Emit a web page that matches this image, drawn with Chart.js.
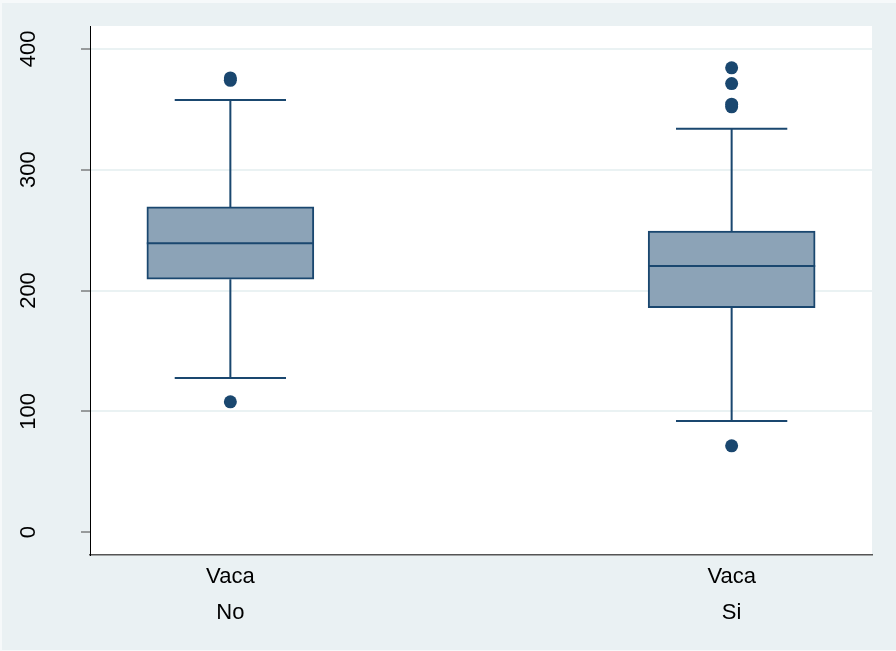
<!DOCTYPE html>
<html>
<head>
<meta charset="utf-8">
<script src="https://cdn.jsdelivr.net/npm/chart.js@4.4.1/dist/chart.umd.min.js"></script>
<style>
  html, body { margin: 0; padding: 0; background: #f6f9fa; }
  #wrap { position: absolute; left: 2px; top: 3px; width: 894px; height: 647px; background: #eaf1f3; }
</style>
</head>
<body>
<div id="wrap"><canvas id="c"></canvas></div>
<script>
// grupos (Vaca: No / Si)
const categories = ['No', 'Si']
const positions = [1, 2]
const q1 = [209.3, 185.8]
const median = [239.1, 220.3]
const q3 = [269.2, 249.3]
const lowerWhisker = [127.5, 91.9]
const upperWhisker = [357.8, 334]
const outliersNo = [107.8, 374, 376]
const outliersSi = [71.4, 352.1, 354.3, 371.3, 384.4]
const yTicks = [0, 100, 200, 300, 400]

const NAVY = '#1a476f'
const FILL = '#8ca3b7'
const BOX_HALF = 0.1667
const CAP_HALF = 0.111

// whiskers, caps and medians as one broken line per group
function whiskerPoints(i) {
  const x = positions[i]
  const gap = { x, y: null }
  return [
    { x, y: q3[i] }, { x, y: upperWhisker[i] }, gap,
    { x: x - CAP_HALF, y: upperWhisker[i] }, { x: x + CAP_HALF, y: upperWhisker[i] }, gap,
    { x, y: q1[i] }, { x, y: lowerWhisker[i] }, gap,
    { x: x - CAP_HALF, y: lowerWhisker[i] }, { x: x + CAP_HALF, y: lowerWhisker[i] }, gap,
    { x: x - BOX_HALF, y: median[i] }, { x: x + BOX_HALF, y: median[i] },
  ]
}

const outlierPoints = [
  ...outliersNo.map(v => ({ x: positions[0], y: v })),
  ...outliersSi.map(v => ({ x: positions[1], y: v })),
]

const plotBg = {
  id: 'plotBg',
  beforeDraw(chart) {
    const { ctx, chartArea: a } = chart
    ctx.save()
    ctx.fillStyle = '#ffffff'
    ctx.fillRect(a.left, a.top, a.right - a.left, a.bottom - a.top)
    ctx.restore()
  }
}

const lineDs = i => ({
  type: 'scatter',
  data: whiskerPoints(i),
  showLine: true,
  spanGaps: false,
  borderColor: NAVY,
  borderWidth: 2,
  pointRadius: 0,
  order: 0,
})

new Chart(document.getElementById('c'), {
  type: 'bar',
  data: {
    datasets: [
      {
        type: 'bar',
        data: positions.map((x, i) => ({ x, y: [q1[i], q3[i]] })),
        backgroundColor: FILL,
        borderColor: NAVY,
        borderWidth: 2,
        borderSkipped: false,
        barThickness: 167,
        order: 2,
      },
      lineDs(0),
      lineDs(1),
      {
        type: 'scatter',
        data: outlierPoints,
        backgroundColor: NAVY,
        borderWidth: 0,
        pointRadius: 6.5,
        order: 0,
      },
    ]
  },
  options: {
    responsive: true,
    maintainAspectRatio: false,
    animation: false,
    layout: { padding: { top: 23, right: 24, bottom: 0, left: 0 } },
    plugins: { legend: { display: false }, tooltip: { enabled: false } },
    scales: {
      x: {
        type: 'linear',
        min: 0.72, max: 2.28,
        offset: false,
        afterBuildTicks: s => { s.ticks = positions.map(v => ({ value: v })) },
        afterFit: s => { s.height = 95; s.paddingLeft = 0; s.paddingRight = 0 },
        grid: { display: false, drawTicks: false },
        border: { color: '#555555', width: 1.5 },
        ticks: {
          padding: 4,
          color: '#000',
          font: { family: 'Liberation Sans', size: 22, lineHeight: 1.64 },
          callback: v => ['Vaca', categories[positions.indexOf(v)]],
        },
      },
      y: {
        min: -19, max: 419,
        afterBuildTicks: s => { s.ticks = yTicks.map(v => ({ value: v })) },
        afterFit: s => { s.width = 88; s.paddingTop = 0; s.paddingBottom = 0 },
        grid: {
          color: ctx => ctx.tick && ctx.tick.value === 0 ? 'rgba(0,0,0,0)' : '#eaf2f3',
          lineWidth: 2,
          tickColor: '#444444',
          tickLength: 9,
          tickWidth: 1,
        },
        border: { color: '#000000', width: 1 },
        ticks: {
          minRotation: 90, maxRotation: 90,
          crossAlign: 'center',
          padding: 34,
          color: '#000',
          font: { family: 'Liberation Sans', size: 22 },
        },
      },
    },
  },
  plugins: [plotBg],
})
</script>
</body>
</html>
